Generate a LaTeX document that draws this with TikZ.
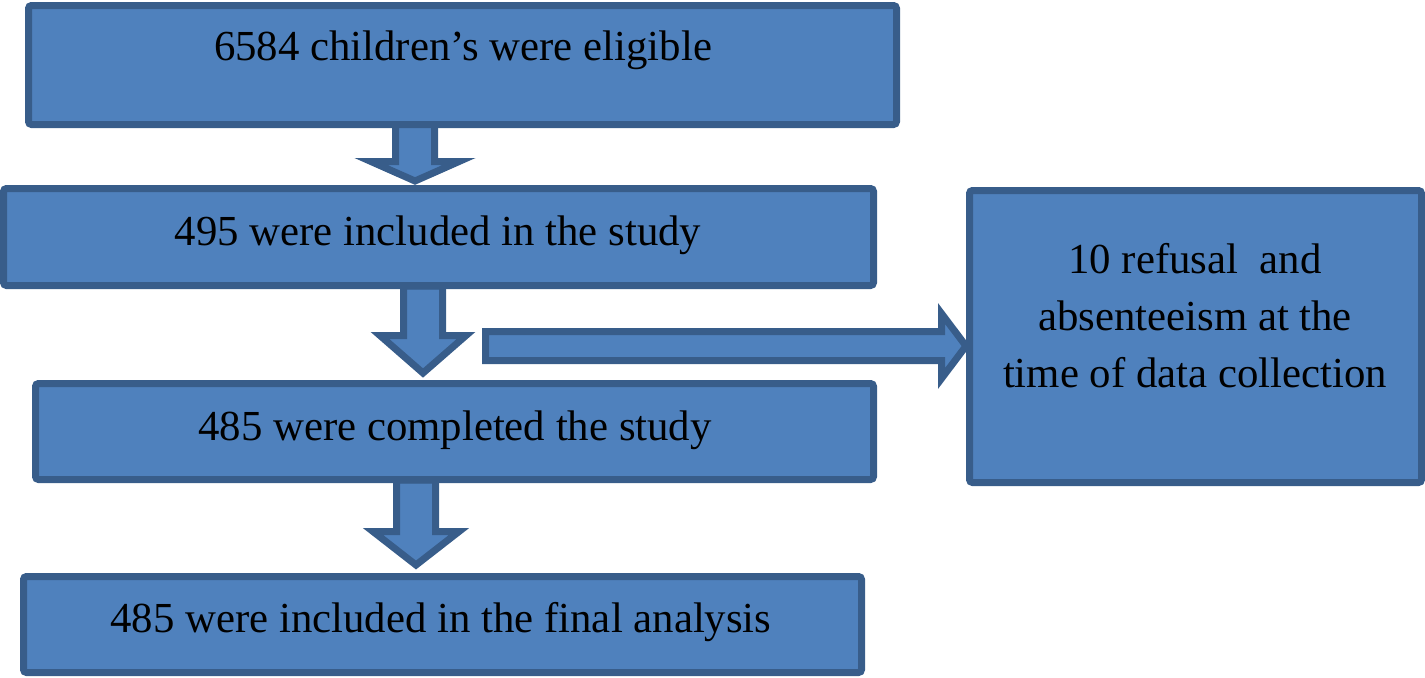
\documentclass[tikz,border=0pt]{standalone}
\usepackage{fontspec}
\setmainfont{Liberation Serif}
\definecolor{boxfill}{HTML}{4F81BD}
\definecolor{boxline}{HTML}{385D8A}
\tikzset{
  box/.style={draw=boxline, fill=boxfill, line width=3.5pt, rounded corners=1.5pt, inner sep=0pt, outer sep=0pt},
  blk/.style={draw=boxline, fill=boxfill, line width=3.5pt, line join=miter},
  txt/.style={font=\fontsize{21.4}{28.5}\selectfont, text=black, inner sep=0pt}
}
\newcommand\dnarrow[6]{%
  \draw[blk] (#1-#5,#2) -- (#1+#5,#2) -- (#1+#5,#3) -- (#1+#6,#3) -- (#1,#4) -- (#1-#6,#3) -- (#1-#5,#3) -- cycle;}
\begin{document}
\begin{tikzpicture}[x=0.5pt,y=-0.5pt]
\useasboundingbox (0,0) rectangle (1425,677);
% arrows (drawn first so boxes cover their tails)
\dnarrow{415}{124}{161.5}{181}{19.5}{44}
\dnarrow{423}{286}{335.5}{373}{19.5}{43}
\dnarrow{416}{480}{531.5}{565}{19.5}{43}
\draw[blk] (485.5,331.5) -- (941.5,331.5) -- (941.5,313.5) -- (966,346) -- (941.5,378.5) -- (941.5,360.5) -- (485.5,360.5) -- cycle;
% boxes
\node[box, minimum width=434pt, minimum height=59.5pt] (b1) at (462.5,65) {};
\node[box, minimum width=435pt, minimum height=48.5pt] (b2) at (438.5,237) {};
\node[box, minimum width=419pt, minimum height=48pt] (b3) at (454.5,431.5) {};
\node[box, minimum width=419pt, minimum height=48pt] (b4) at (442.5,624.5) {};
\node[box, minimum width=226pt, minimum height=146pt] (b5) at (1195.5,336.5) {};
% texts
\node[txt, anchor=base] (t1) at (463,60) {6584 children’s were eligible};
\node[txt, anchor=base] (t2) at (438,245) {495 were included in the study};
\node[txt, anchor=base] (t3) at (455,440) {485 were completed the study};
\node[txt, anchor=base] (t4) at (441,632) {485 were included in the final analysis};
\node[txt, align=center, anchor=center] (t5) at (1195,316) {10 refusal\ \ and\\absenteeism at the\\time of data collection};
\end{tikzpicture}
\end{document}
